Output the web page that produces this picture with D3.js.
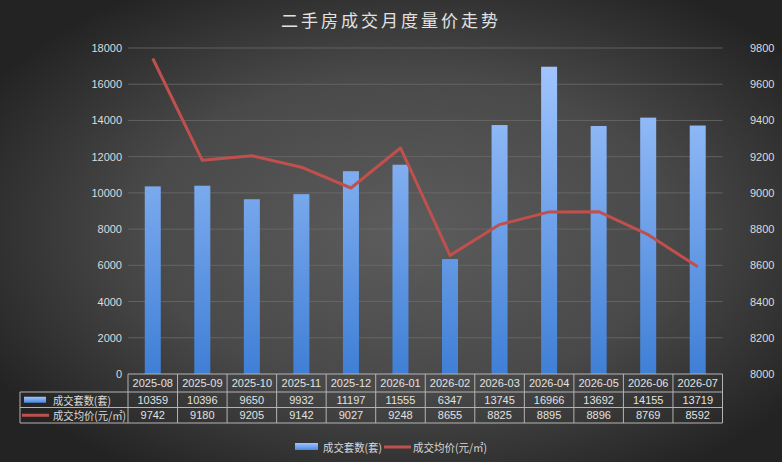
<!DOCTYPE html>
<html>
<head>
<meta charset="utf-8">
<script src="https://cdn.jsdelivr.net/npm/d3@7"></script>
<style>
  html, body { margin: 0; padding: 0; background: #2a2a2a; }
  svg { display: block; }
  text { font-family: "Liberation Sans", Arial, "Noto Sans CJK SC", sans-serif; }
</style>
</head>
<body>
<div id="chart"></div>
<script>
// ---- data ----
const months = ['2025-08','2025-09','2025-10','2025-11','2025-12','2026-01','2026-02','2026-03','2026-04','2026-05','2026-06','2026-07'];
const volume = [10359,10396,9650,9932,11197,11555,6347,13745,16966,13692,14155,13719];
const price = [9742,9180,9205,9142,9027,9248,8655,8825,8895,8896,8769,8592];
const leftTicks = [0,2000,4000,6000,8000,10000,12000,14000,16000,18000];
const rightTicks = [8000,8200,8400,8600,8800,9000,9200,9400,9600,9800];
const seriesNames = ['成交套数(套)', '成交均价(元/㎡)'];
const title = '二手房成交月度量价走势';

const width = 782, height = 462;
const plotLeft = 128, plotRight = 722.5, plotTop = 48, plotBottom = 374;
const rowH = [18, 15.5, 15.5];
const labelColLeft = 20;
const lineColor = '#c0504d';

const svg = d3.select('#chart').append('svg')
  .attr('width', width).attr('height', height);

const defs = svg.append('defs');
const bg = defs.append('radialGradient').attr('id', 'bg')
  .attr('cx', '52%').attr('cy', '50%').attr('r', '62%');
bg.append('stop').attr('offset', '0%').attr('stop-color', '#5c5c5c');
bg.append('stop').attr('offset', '55%').attr('stop-color', '#494949');
bg.append('stop').attr('offset', '100%').attr('stop-color', '#232323');

const barGrad = defs.append('linearGradient').attr('id', 'barGrad')
  .attr('gradientUnits', 'userSpaceOnUse')
  .attr('x1', 0).attr('x2', 0).attr('y1', plotTop).attr('y2', plotBottom);
barGrad.append('stop').attr('offset', '0%').attr('stop-color', '#a6c9ff');
barGrad.append('stop').attr('offset', '100%').attr('stop-color', '#3f7fd6');

const swatchGrad = defs.append('linearGradient').attr('id', 'swatchGrad')
  .attr('x1', 0).attr('x2', 0).attr('y1', 0).attr('y2', 1);
swatchGrad.append('stop').attr('offset', '0%').attr('stop-color', '#9fc4ff');
swatchGrad.append('stop').attr('offset', '100%').attr('stop-color', '#4a8ae0');

svg.append('rect').attr('width', width).attr('height', height).attr('fill', 'url(#bg)');

// ---- scales ----
const x = d3.scaleBand().domain(months).range([plotLeft, plotRight]).padding(0);
const yLeft = d3.scaleLinear().domain([0, 18000]).range([plotBottom, plotTop]);
const yRight = d3.scaleLinear().domain([8000, 9800]).range([plotBottom, plotTop]);
const barW = 16;

// title
svg.append('text')
  .attr('x', 391).attr('y', 27)
  .attr('text-anchor', 'middle')
  .attr('fill', '#e2e2e2')
  .style('font-family', '"Noto Sans CJK SC", sans-serif')
  .style('font-size', '17px')
  .style('letter-spacing', '3px')
  .text(title);

// gridlines
svg.append('g').selectAll('line').data(leftTicks.filter(d => d > 0)).enter().append('line')
  .attr('x1', plotLeft).attr('x2', plotRight)
  .attr('y1', d => yLeft(d)).attr('y2', d => yLeft(d))
  .attr('stroke', '#6b6b6b').attr('stroke-width', 0.8);

// left axis
const gL = svg.append('g').attr('transform', 'translate(' + (plotLeft - 6) + ',0)')
  .call(d3.axisLeft(yLeft).tickValues(leftTicks).tickSize(0).tickPadding(0).tickFormat(d3.format('d')));
gL.select('.domain').remove();
gL.selectAll('text').attr('fill', '#dcdcdc').style('font-size', '11px')
  .style('font-family', '"Liberation Sans", Arial, sans-serif');

// right axis
const gR = svg.append('g').attr('transform', 'translate(750,0)')
  .call(d3.axisRight(yRight).tickValues(rightTicks).tickSize(0).tickPadding(0).tickFormat(d3.format('d')));
gR.select('.domain').remove();
gR.selectAll('text').attr('fill', '#dcdcdc').style('font-size', '11px')
  .style('font-family', '"Liberation Sans", Arial, sans-serif');

// bars
svg.append('g').selectAll('rect').data(volume).enter().append('rect')
  .attr('x', (d, i) => x(months[i]) + x.bandwidth() / 2 - barW / 2)
  .attr('y', d => yLeft(d))
  .attr('width', barW)
  .attr('height', d => plotBottom - yLeft(d))
  .attr('fill', 'url(#barGrad)');

// line
const line = d3.line()
  .x((d, i) => x(months[i]) + x.bandwidth() / 2)
  .y(d => yRight(d));
svg.append('path').datum(price)
  .attr('d', line)
  .attr('fill', 'none')
  .attr('stroke', lineColor)
  .attr('stroke-width', 3)
  .attr('stroke-linejoin', 'round');

// ---- data table ----
const tbl = svg.append('g');
const rowY = [plotBottom, plotBottom + rowH[0], plotBottom + rowH[0] + rowH[1], plotBottom + rowH[0] + rowH[1] + rowH[2]];
const border = '#b4b4b4';

tbl.append('line').attr('x1', plotLeft).attr('x2', plotRight).attr('y1', rowY[0]).attr('y2', rowY[0])
  .attr('stroke', border).attr('stroke-width', 1);
[1, 2, 3].forEach(function(r){
  tbl.append('line').attr('x1', labelColLeft).attr('x2', plotRight).attr('y1', rowY[r]).attr('y2', rowY[r])
    .attr('stroke', border).attr('stroke-width', 1);
});
const colEdges = months.map(m => x(m)).concat([plotRight]);
tbl.selectAll('.vline').data(colEdges).enter().append('line').attr('class', 'vline')
  .attr('x1', d => d).attr('x2', d => d)
  .attr('y1', rowY[0]).attr('y2', rowY[3])
  .attr('stroke', border).attr('stroke-width', 1);
tbl.append('line').attr('x1', labelColLeft).attr('x2', labelColLeft).attr('y1', rowY[1]).attr('y2', rowY[3])
  .attr('stroke', border).attr('stroke-width', 1);

const cellText = function(sel, y){
  sel.attr('x', (d, i) => x(months[i]) + x.bandwidth() / 2)
    .attr('y', y)
    .attr('text-anchor', 'middle')
    .attr('dominant-baseline', 'central')
    .attr('fill', '#e2e2e2')
    .style('font-size', '11px');
};
tbl.selectAll('.hdr').data(months).enter().append('text').attr('class', 'hdr')
  .call(cellText, (rowY[0] + rowY[1]) / 2).text(d => d);
tbl.selectAll('.vol').data(volume).enter().append('text').attr('class', 'vol')
  .call(cellText, (rowY[1] + rowY[2]) / 2).text(d => d);
tbl.selectAll('.prc').data(price).enter().append('text').attr('class', 'prc')
  .call(cellText, (rowY[2] + rowY[3]) / 2).text(d => d);

// row labels
const r1 = (rowY[1] + rowY[2]) / 2, r2 = (rowY[2] + rowY[3]) / 2;
const labelLens = [58, 73];
tbl.append('rect').attr('x', 24).attr('y', r1 - 3).attr('width', 22).attr('height', 6).attr('fill', 'url(#swatchGrad)');
tbl.append('line').attr('x1', 22).attr('x2', 49).attr('y1', r2).attr('y2', r2)
  .attr('stroke', lineColor).attr('stroke-width', 3);
[r1, r2].forEach(function(y, i){
  tbl.append('text').attr('x', 53).attr('y', y)
    .attr('dominant-baseline', 'central')
    .attr('fill', '#dcdcdc')
    .attr('textLength', labelLens[i])
    .attr('lengthAdjust', 'spacingAndGlyphs')
    .style('font-size', '11px')
    .style('font-family', '"Noto Sans CJK SC", sans-serif')
    .text(seriesNames[i]);
});

// ---- bottom legend ----
const leg = svg.append('g');
leg.append('rect').attr('x', 295).attr('y', 443).attr('width', 23).attr('height', 7).attr('fill', 'url(#swatchGrad)');
leg.append('text').attr('x', 323).attr('y', 447).attr('dominant-baseline', 'central')
  .attr('fill', '#d8d8d8').style('font-size', '11px')
  .attr('textLength', 59).attr('lengthAdjust', 'spacingAndGlyphs')
  .style('font-family', '"Noto Sans CJK SC", sans-serif').text(seriesNames[0]);
leg.append('line').attr('x1', 384).attr('x2', 411).attr('y1', 447).attr('y2', 447)
  .attr('stroke', lineColor).attr('stroke-width', 3);
leg.append('text').attr('x', 413).attr('y', 447).attr('dominant-baseline', 'central')
  .attr('fill', '#d8d8d8').style('font-size', '11px')
  .attr('textLength', 74).attr('lengthAdjust', 'spacingAndGlyphs')
  .style('font-family', '"Noto Sans CJK SC", sans-serif').text(seriesNames[1]);
</script>
</body>
</html>
